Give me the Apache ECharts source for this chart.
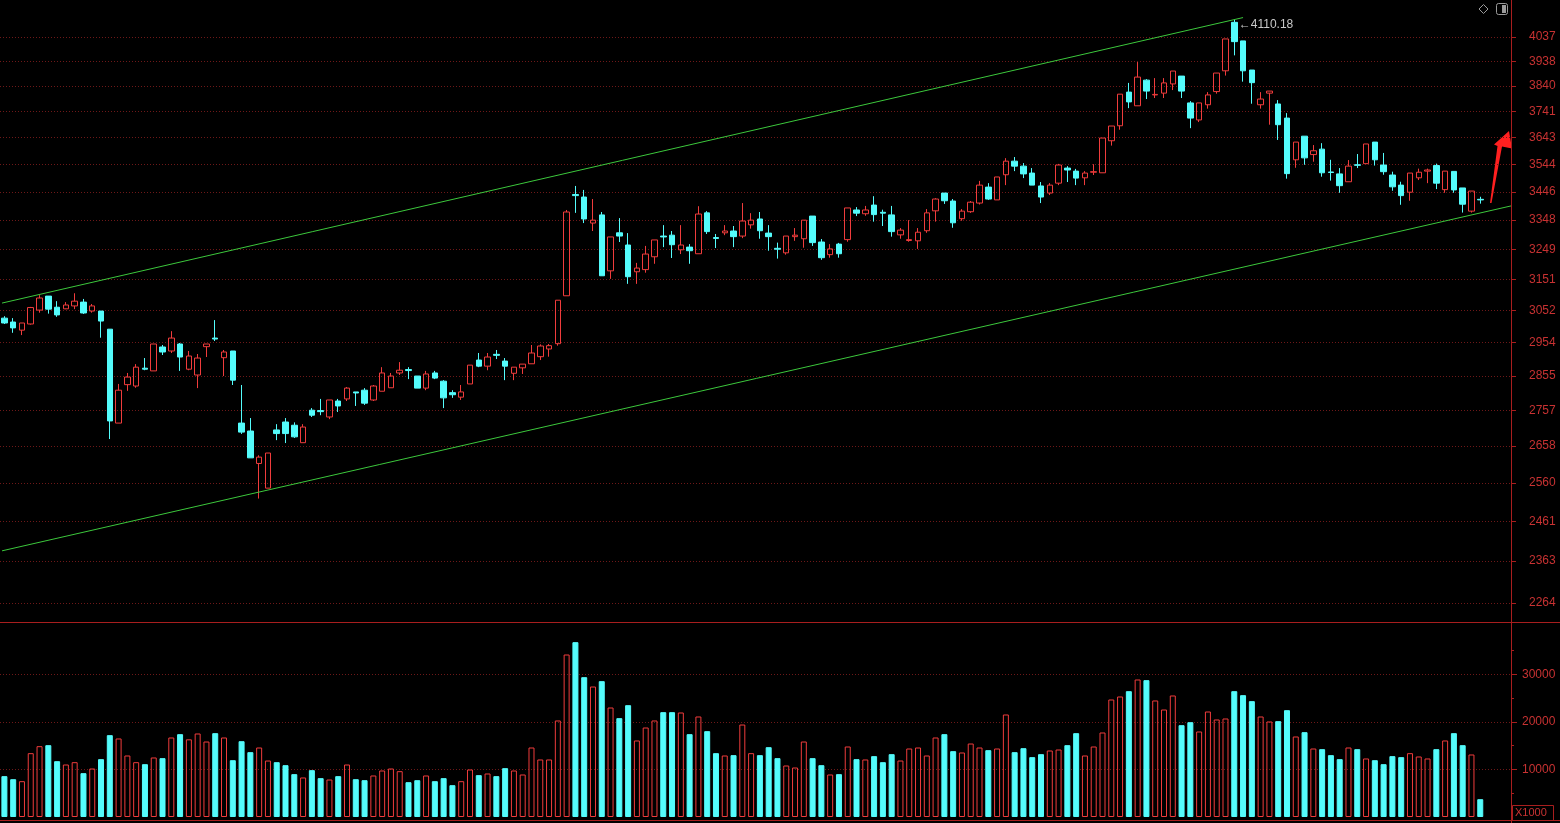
<!DOCTYPE html>
<html>
<head>
<meta charset="utf-8">
<style>
html,body{margin:0;padding:0;background:#000;}
#chart{width:1560px;height:823px;}
</style>
<script src="https://cdn.jsdelivr.net/npm/echarts@6.0.0/dist/echarts.min.js"></script>
</head>
<body>
<div id="chart"></div>
<script>
// ---- data ----
const opens = [3029,3017,2992,3011,3054,3098,3063,3058,3067,3079,3051,3051,2995,2721,2830,2826,2878,2870,2941,2929,
2950,2875,2858,2942,2968,2909,2929,2721,2699,2611,2546,2702,2724,2715,2667,2757,2756,2738,2783,2789,
2809,2814,2786,2811,2821,2864,2874,2855,2820,2864,2840,2807,2794,2832,2902,2884,2919,2899,2863,2879,
2891,2912,2935,2951,3099,3437,3428,3338,3366,3179,3305,3264,3176,3183,3225,3294,3297,3248,3257,3235,
3373,3289,3305,3311,3294,3332,3352,3304,3253,3238,3292,3285,3362,3274,3232,3267,3282,3383,3370,3400,
3375,3366,3298,3279,3278,3312,3380,3442,3414,3353,3377,3407,3463,3418,3507,3556,3538,3513,3467,3442,
3477,3531,3520,3496,3516,3514,3631,3687,3816,3763,3863,3805,3812,3848,3879,3774,3709,3767,3818,3900,
4098,4021,3903,3767,3812,3770,3716,3561,3648,3580,3600,3517,3510,3482,3543,3547,3626,3542,3506,3470,
3445,3496,3520,3540,3454,3519,3460,3379,3420];
const closes = [3014,2999,3014,3062,3092,3057,3039,3070,3082,3045,3067,3020,2727,2814,2852,2881,2875,2950,2926,2968,
2911,2914,2908,2950,2965,2926,2843,2696,2626,2628,2639,2692,2692,2683,2710,2743,2753,2786,2769,2820,
2806,2777,2826,2864,2855,2872,2871,2820,2861,2849,2792,2801,2809,2887,2884,2911,2916,2884,2881,2890,
2923,2944,2945,3085,3376,3433,3352,3348,3163,3291,3294,3160,3188,3234,3281,3291,3265,3264,3245,3369,
3309,3286,3311,3292,3345,3348,3312,3292,3250,3294,3297,3348,3272,3222,3251,3235,3390,3372,3383,3367,
3372,3309,3314,3282,3307,3373,3421,3415,3339,3379,3410,3470,3421,3499,3556,3538,3510,3470,3428,3470,
3542,3524,3495,3513,3518,3641,3686,3808,3778,3875,3820,3807,3852,3899,3820,3716,3774,3805,3891,4029,
4018,3900,3853,3789,3820,3691,3511,3626,3568,3594,3514,3515,3468,3538,3541,3619,3561,3518,3464,3433,
3513,3516,3524,3477,3520,3453,3403,3449,3418];
const lows = [3011,2984,2977,3009,3046,3043,3033,3057,3057,3042,3046,2969,2677,2721,2812,2821,2872,2870,2917,2923,
2870,2872,2820,2911,2959,2855,2829,2691,2626,2519,2546,2674,2666,2680,2667,2738,2743,2732,2752,2783,
2769,2772,2783,2811,2821,2858,2846,2820,2814,2846,2763,2792,2786,2832,2881,2872,2905,2843,2843,2861,
2891,2902,2912,2945,3099,3373,3338,3311,3163,3153,3274,3137,3137,3173,3202,3257,3221,3234,3202,3235,
3301,3254,3297,3257,3287,3319,3285,3245,3219,3232,3278,3255,3261,3215,3222,3222,3275,3362,3363,3343,
3328,3292,3285,3275,3251,3305,3343,3404,3322,3346,3373,3402,3418,3418,3470,3520,3495,3470,3407,3435,
3470,3481,3470,3470,3506,3514,3613,3672,3754,3763,3789,3793,3793,3824,3793,3678,3701,3752,3810,3881,
3962,3857,3771,3752,3691,3634,3493,3532,3543,3554,3500,3486,3443,3482,3531,3547,3540,3507,3450,3401,
3415,3488,3477,3456,3443,3443,3374,3374,3405];
const highs = [3035,3029,3014,3064,3101,3098,3082,3079,3107,3089,3073,3051,2995,2832,2864,2890,2908,2950,2947,2989,
2953,2929,2920,2950,3023,2932,2929,2829,2735,2633,2639,2718,2735,2723,2718,2763,2789,2786,2789,2823,
2809,2820,2829,2881,2864,2896,2881,2855,2870,2870,2843,2814,2829,2887,2923,2923,2932,2908,2881,2890,
2947,2949,2950,3085,3383,3467,3453,3421,3376,3291,3355,3304,3205,3261,3281,3331,3311,3331,3267,3396,
3379,3301,3331,3328,3407,3372,3376,3331,3272,3294,3321,3348,3362,3284,3267,3271,3390,3393,3397,3431,
3384,3397,3321,3348,3321,3386,3424,3442,3421,3386,3414,3485,3477,3499,3567,3571,3549,3531,3481,3477,
3546,3538,3528,3520,3545,3641,3686,3808,3852,3935,3867,3871,3871,3899,3879,3781,3774,3816,3891,4029,
4110.18,4021,3903,3816,3820,3785,3735,3626,3648,3615,3622,3561,3531,3560,3582,3619,3626,3586,3518,3482,
3513,3529,3529,3547,3520,3519,3460,3449,3429];
const volumes = [8600,7960,7540,13440,14910,15120,11750,11050,11540,9230,10210,12180,17230,16530,12950,11540,11120,12530,12390,16740,
17440,16350,17580,15890,17650,16740,11960,15960,13650,14630,11890,11540,10910,9020,8320,9860,8180,7890,8600,11050,
7960,7750,8740,9790,10210,9650,7330,7750,8740,7540,8180,6700,7540,10000,8810,9160,8600,10280,9790,8950,
14630,12110,12110,20320,34210,36810,29440,27470,28600,23050,20810,23540,16110,18840,20320,22070,22070,22000,17440,21160,
18070,13440,12950,13020,19470,13440,13020,14700,12390,10840,10420,15890,12390,10910,8950,9020,14840,12180,12110,12810,
11540,13230,11890,14420,14630,12950,16740,17440,13860,13580,15470,14630,14070,14420,21580,13650,14490,12600,13230,14000,
14210,15120,17650,12950,14840,17790,24740,25370,26490,28950,28810,24530,22630,25580,19330,19960,18000,22210,20530,20740,
26490,25650,24390,21160,20110,20180,22490,16950,17860,14420,14280,13020,12180,14630,14280,12320,11960,11120,12810,12600,
13440,12740,12320,14280,16110,17650,15120,13160,3750];
const slotCount = 172; // 169 trading days + 3 empty slots on the right
const categories = Array.from({length: slotCount}, (_, i) => String(i + 1));
const priceTicks = [2264,2363,2461,2560,2658,2757,2855,2954,3052,3151,3249,3348,3446,3544,3643,3741,3840,3938,4037];
const volumeTicks = [10000,20000,30000];
const upperTrend = [[-0.27, 3076], [141, 4118]];
const lowerTrend = [[-0.27, 2388], [171.5, 3397]];
const highMark = {index: 140, value: 4110.18};

// ---- styles ----
const RED = '#f03c3c', CYAN = '#54fcfc', AXIS = '#a81e1e', LABEL = '#c83232', GRIDC = '#6e1818';

const candleData = opens.map((o, i) => [o, closes[i], lows[i], highs[i]]);
const volData = volumes.map((v, i) => ({
  value: v,
  itemStyle: closes[i] > opens[i]
    ? {color: 'rgba(0,0,0,0)', borderColor: RED, borderWidth: 1}
    : {color: CYAN, borderColor: CYAN, borderWidth: 1}
}));

const chart = echarts.init(document.getElementById('chart'), null, {renderer: 'canvas'});
chart.setOption({
  backgroundColor: '#000000',
  animation: false,
  grid: [
    {left: -2, top: 0, width: 1513, height: 622},
    {left: -2, top: 623, width: 1513, height: 194}
  ],
  xAxis: [
    {type: 'category', gridIndex: 0, data: categories, boundaryGap: true, show: false},
    {type: 'value', gridIndex: 0, min: -0.5, max: slotCount - 0.5, show: false},
    {type: 'category', gridIndex: 1, data: categories, boundaryGap: true, show: false}
  ],
  yAxis: [
    {
      type: 'log', gridIndex: 0, position: 'right', logBase: 10,
      min: 2220.5, max: 4192.6,
      axisLine: {show: true, onZero: false, lineStyle: {color: AXIS, width: 1}},
      axisTick: {show: true, inside: false, length: 5, customValues: priceTicks, lineStyle: {color: AXIS}},
      axisLabel: {show: true, customValues: priceTicks, margin: 18, color: LABEL, fontSize: 12,
        fontFamily: 'Liberation Sans, Arial, sans-serif', formatter: v => String(Math.round(v))},
      splitLine: {show: true, lineStyle: {color: GRIDC, width: 1, type: [1, 2]}}
    },
    {
      type: 'value', gridIndex: 1, position: 'right', min: 0, max: 40842, interval: 10000,
      axisLine: {show: true, onZero: false, lineStyle: {color: AXIS, width: 1}},
      axisTick: {show: true, length: 6, customValues: volumeTicks, lineStyle: {color: AXIS}},
      minorTick: {show: true, splitNumber: 2, length: 3, lineStyle: {color: AXIS}},
      axisLabel: {show: true, customValues: volumeTicks, margin: 11, color: LABEL, fontSize: 12,
        fontFamily: 'Liberation Sans, Arial, sans-serif', formatter: v => String(Math.round(v))},
      splitLine: {show: true, lineStyle: {color: GRIDC, width: 1, type: [1, 2]}}
    }
  ],
  series: [
    {
      type: 'candlestick', xAxisIndex: 0, yAxisIndex: 0, data: candleData, barWidth: 6,
      itemStyle: {color: 'rgba(0,0,0,0)', color0: CYAN, borderColor: RED, borderColor0: CYAN, borderWidth: 1},
      emphasis: {disabled: true},
      markPoint: {
        symbol: 'circle', symbolSize: 1, silent: true,
        itemStyle: {color: 'rgba(0,0,0,0)'},
        label: {show: true, position: 'right', offset: [-1, 5], color: '#c8c8c8', fontSize: 12,
          fontFamily: 'Liberation Sans, Arial, sans-serif', formatter: '\u2190' + highMark.value.toFixed(2)},
        data: [{coord: [highMark.index, highMark.value], value: highMark.value}]
      }
    },
    {
      type: 'line', xAxisIndex: 1, yAxisIndex: 0, data: upperTrend, symbol: 'none', silent: true,
      lineStyle: {color: '#3cc83c', width: 1}
    },
    {
      type: 'line', xAxisIndex: 1, yAxisIndex: 0, data: lowerTrend, symbol: 'none', silent: true,
      lineStyle: {color: '#3cc83c', width: 1}
    },
    {
      type: 'bar', xAxisIndex: 2, yAxisIndex: 1, data: volData, barWidth: 6, silent: true
    }
  ],
  graphic: [
    {type: 'line', shape: {x1: 0, y1: 622.5, x2: 1560, y2: 622.5}, style: {stroke: AXIS, lineWidth: 1}, silent: true},
    {type: 'line', shape: {x1: 0, y1: 820.5, x2: 1560, y2: 820.5}, style: {stroke: AXIS, lineWidth: 1}, silent: true},
    {type: 'line', shape: {x1: 1511.5, y1: 0, x2: 1511.5, y2: 823}, style: {stroke: AXIS, lineWidth: 1}, silent: true},
    {type: 'polygon', shape: {points: [[1490, 203], [1497.5, 146], [1494, 144.5], [1509, 131], [1512, 148.5], [1502, 146.5], [1491.5, 203]]},
      style: {fill: '#ff2020'}, silent: true},
    {type: 'polygon', shape: {points: [[1483.5, 4.5], [1488, 9], [1483.5, 13.5], [1479, 9]]},
      style: {fill: 'none', stroke: '#9a9a9a', lineWidth: 1}, silent: true},
    {type: 'rect', shape: {x: 1496.5, y: 3.5, width: 11, height: 11, r: 2},
      style: {fill: 'none', stroke: '#9a9a9a', lineWidth: 1}, silent: true},
    {type: 'rect', shape: {x: 1502, y: 5, width: 4, height: 8},
      style: {fill: '#9a9a9a'}, silent: true},
    {type: 'rect', shape: {x: 1512.5, y: 805.5, width: 41, height: 15},
      style: {fill: 'none', stroke: AXIS, lineWidth: 1}, silent: true},
    {type: 'text', x: 1515, y: 813, style: {text: 'X1000', fill: LABEL, fontSize: 11,
      fontFamily: 'Liberation Sans, Arial, sans-serif', verticalAlign: 'middle'}, silent: true}
  ]
});
</script>
</body>
</html>
